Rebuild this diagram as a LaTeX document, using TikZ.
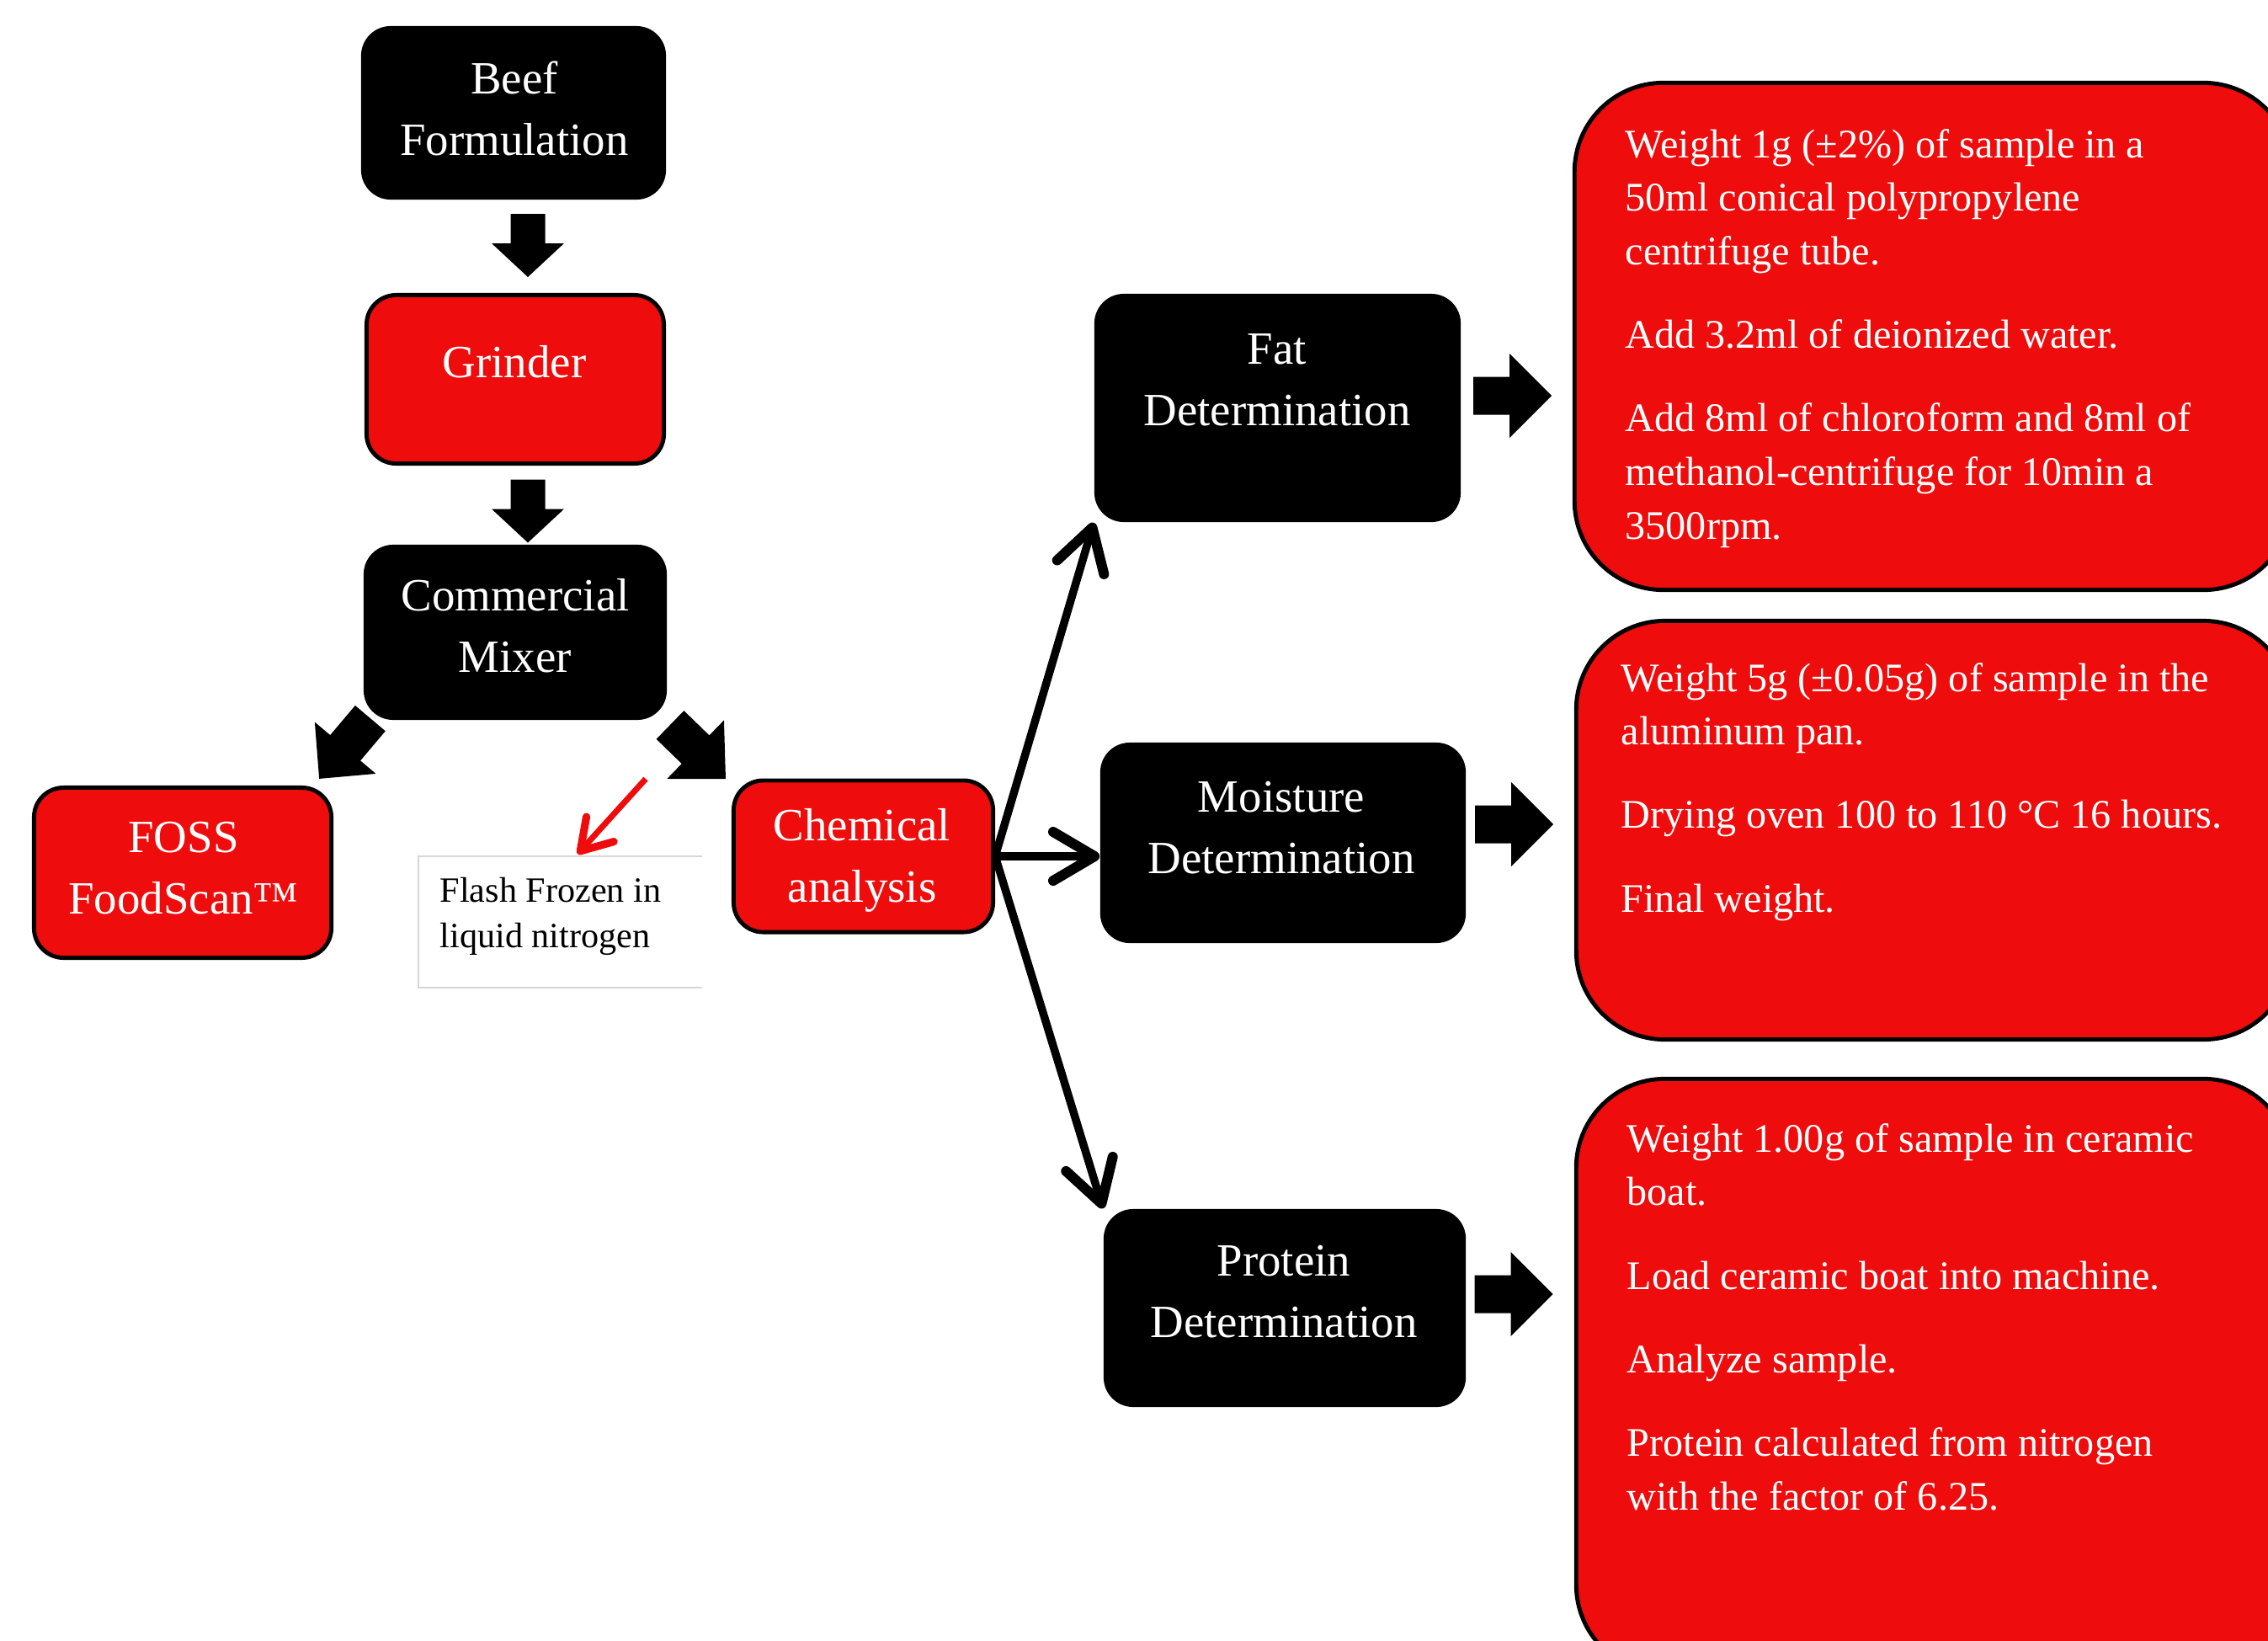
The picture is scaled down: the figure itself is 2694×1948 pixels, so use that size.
\documentclass[tikz,border=0pt]{standalone}
\usepackage{fontspec}
\setmainfont{Liberation Serif}
\usetikzlibrary{arrows.meta,calc}
\definecolor{boxred}{RGB}{238,12,12}
\definecolor{framegray}{RGB}{215,215,215}
\tikzset{
  pics/blockarrow/.style args={#1/#2/#3/#4}{code={
    \fill ({-#1/2},{-#2/2}) -- ({#1/2-#4},{-#2/2}) -- ({#1/2-#4},{-#3/2}) -- ({#1/2},0)
      -- ({#1/2-#4},{#3/2}) -- ({#1/2-#4},{#2/2}) -- ({-#1/2},{#2/2}) -- cycle;
  }},
  blackbox/.style={fill=black, rounded corners=10pt, inner sep=0pt},
  redbox/.style={fill=boxred, draw=black, line width=1.4pt, rounded corners=10pt, inner sep=0pt},
  detailbox/.style={fill=boxred, draw=black, line width=1.4pt, rounded corners=30pt, inner sep=0pt},
  titletext/.style={text=white, align=center, font=\fontsize{15.6}{20.5}\selectfont, inner sep=0pt, anchor=base},
  detailtext/.style={text=white, align=left, font=\fontsize{13.7}{18.1}\selectfont, inner sep=0pt, anchor=base west},
  conn/.style={line width=2.7pt, -{Straight Barb[length=14pt,width=16.5pt,line width=3.4pt,round]}},
  redconn/.style={draw=boxred, line width=2pt, -{Straight Barb[length=10pt,width=12.5pt,line width=2.6pt,round]}},
}
\begin{document}
\begin{tikzpicture}[x=0.01cm,y=-0.01cm]
\useasboundingbox (0,0) rectangle (2694,1948);
\fill[white] (0,0) rectangle (2694,1948);
\clip (0,0) rectangle (2694,1948);

% left column boxes
\node[blackbox, minimum width=36.2mm, minimum height=20.6mm] (beef) at (610,134) {};
\node[redbox, minimum width=35.3mm, minimum height=20mm] (grinder) at (612,450.5) {};
\node[blackbox, minimum width=36mm, minimum height=20.8mm] (mixer) at (612,751) {};
\node[redbox, minimum width=35.3mm, minimum height=20.2mm] (foss) at (217,1036.5) {};
\node[redbox, minimum width=30.8mm, minimum height=18mm] (chem) at (1025.5,1017) {};
\node[minimum width=33.5mm, minimum height=15.4mm, inner sep=0pt] (flash) at (665.5,1095) {};
\draw[framegray, line width=0.6pt] (flash.north east) -- (flash.north west) -- (flash.south west) -- (flash.south east);

% middle column
\node[blackbox, minimum width=43.5mm, minimum height=27.1mm] (fat) at (1517.5,484.5) {};
\node[blackbox, minimum width=43.4mm, minimum height=23.8mm] (moist) at (1524,1001) {};
\node[blackbox, minimum width=43mm, minimum height=23.5mm] (prot) at (1526,1553.5) {};

% right column
\node[detailbox, minimum width=85.2mm, minimum height=60.2mm] (fatd) at (2296.5,399.5) {};
\node[detailbox, minimum width=85mm, minimum height=49.7mm] (moistd) at (2297.5,986) {};
\node[detailbox, minimum width=85mm, minimum height=70.6mm] (protd) at (2297.5,1634.5) {};

% titles (anchor = baseline of last line)
\node[titletext] (beef-t) at (611,184) {Beef\\Formulation};
\node[titletext] (grinder-t) at (611,448) {Grinder};
\node[titletext] (mixer-t) at (612,798) {Commercial\\Mixer};
\node[titletext] (foss-t) at (218,1085) {FOSS\\FoodScan™};
\node[titletext] (chem-t) at (1024,1071) {Chemical\\analysis};
\node[titletext] (fat-t) at (1517,505) {Fat\\Determination};
\node[titletext] (moist-t) at (1522,1037) {Moisture\\Determination};
\node[titletext] (prot-t) at (1525,1588) {Protein\\Determination};
\node[font=\fontsize{12}{15.1}\selectfont, align=left, anchor=base west, inner sep=0pt] (flash-t) at (522,1125) {Flash Frozen in\\liquid nitrogen};

% detail texts
\node[detailtext] (fatd-t) at (1930,640) {Weight 1g (±2\%) of sample in a\\50ml conical polypropylene\\centrifuge tube.\\[10.1pt]Add 3.2ml of deionized water.\\[10.1pt]Add 8ml of chloroform and 8ml of\\methanol-centrifuge for 10min a\\3500rpm.};
\node[detailtext] (moistd-t) at (1925,1083) {Weight 5g (±0.05g) of sample in the\\aluminum pan.\\[10.1pt]Drying oven 100 to 110 °C 16 hours.\\[10.1pt]Final weight.};
\node[detailtext] (protd-t) at (1932,1793) {Weight 1.00g of sample in ceramic\\boat.\\[10.1pt]Load ceramic boat into machine.\\[10.1pt]Analyze sample.\\[10.1pt]Protein calculated from nitrogen\\with the factor of 6.25.};

% block arrows
\pic[rotate=-90] at (627,291.5) {blockarrow=75/41/86/40};
\pic[rotate=-90] at (627,607) {blockarrow=75/41/86/40};
\pic[rotate=-130.2] at (409.5,889) {blockarrow=94/47/95/48};
\pic[rotate=-44.2] at (829,893) {blockarrow=92/47/97/50};
\pic at (1796.5,470) {blockarrow=93/45/100/50};
\pic at (1798.5,979) {blockarrow=93/45/100/50};
\pic at (1798,1537) {blockarrow=93/45/100/50};

% connectors
\draw[conn] (chem.east) -- (fat.south west);
\draw[conn] (chem.east) -- (chem.east -| moist.west);
\draw[conn] (chem.east) -- (prot.north west);
\coordinate (redstart) at (767,925);
\draw[redconn] (redstart) -- ($(flash.north west)+(189,-3)$);
\end{tikzpicture}
\end{document}
